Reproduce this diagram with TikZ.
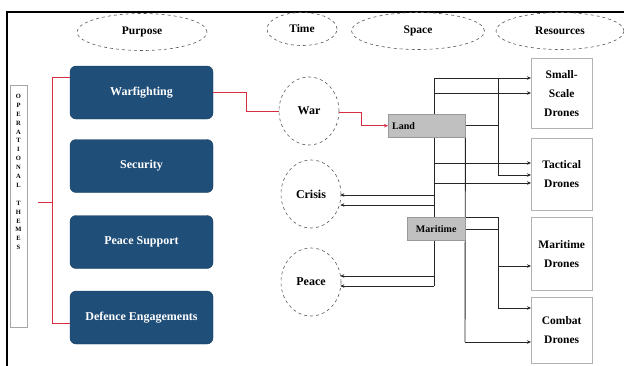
\documentclass[tikz,border=0pt]{standalone}
\usepackage{fontspec}
\setmainfont{Liberation Serif}
\usetikzlibrary{shapes.geometric,arrows.meta,backgrounds}
\definecolor{navy}{RGB}{31,78,121}
\definecolor{redl}{RGB}{215,45,65}
\definecolor{boxgray}{RGB}{192,192,192}
\begin{document}
\begin{tikzpicture}[x=1pt,y=-1pt,
 hdr/.style={ellipse,draw=gray!70!black,dashed,line width=0.6pt,inner sep=0pt,font=\bfseries\fontsize{11.5}{14}\selectfont},
 theme/.style={rounded corners=6pt,fill=navy,draw=navy!80!black,text=white,font=\bfseries\fontsize{12}{14}\selectfont,minimum width=143pt,minimum height=53pt,inner sep=0pt},
 phase/.style={ellipse,draw=gray!70!black,dashed,line width=0.6pt,minimum width=60pt,minimum height=68pt,inner sep=0pt,font=\bfseries\fontsize{12}{14}\selectfont},
 dom/.style={fill=boxgray,draw=gray!80,font=\bfseries\fontsize{10}{12}\selectfont,inner ysep=0pt,minimum height=23pt},
 drone/.style={draw=gray!60,minimum width=61pt,inner sep=0pt,align=center,font=\bfseries\fontsize{11.5}{19}\selectfont},
 wire/.style={draw=black!85,line width=0.9pt},
 arr/.style={wire,-{Stealth[length=4pt,width=3.5pt]}},
 redw/.style={draw=redl,line width=0.9pt}
]
\path[use as bounding box] (0,0) rectangle (624,365);
\clip (0,0) rectangle (624,365);
\draw[line width=1.2pt] (7,12) rectangle (640,380);

% headers
\node[hdr,minimum width=130pt,minimum height=37pt] (purpose) at (142,32) {Purpose};
\node[hdr,minimum width=70pt,minimum height=33pt] (time) at (302,29) {Time};
\node[hdr,minimum width=133pt,minimum height=37pt] (space) at (418,31) {Space};
\node[hdr,minimum width=128pt,minimum height=37pt] (res) at (560,31) {Resources};

% operational themes strip
\node[draw=gray!70,minimum width=17pt,minimum height=242pt,inner sep=0pt] (strip) at (18.5,206) {};
\node[font=\bfseries\fontsize{6.5}{8.9}\selectfont,align=center,inner sep=0pt] (striptext) at (18.5,172)
 {O\\P\\E\\R\\A\\T\\I\\O\\N\\A\\L\\[8.9pt]T\\H\\E\\M\\E\\S};

% themes
\node[theme] (warf) at (141.5,92.5) {Warfighting};
\node[theme] (sec) at (141.5,166) {Security};
\node[theme] (peace) at (141.5,242) {Peace Support};
\node[theme] (def) at (141.5,317.5) {Defence Engagements};

% phases
\node[phase] (war) at (309,111) {War};
\node[phase] (crisis) at (311,194) {Crisis};
\node[phase] (peacec) at (311,282) {Peace};

% domains
\node[dom,anchor=north west,text width=69pt,inner xsep=4pt,align=left] (land) at (388,114) {Land};
\node[dom,anchor=north west,minimum width=58pt,inner xsep=0pt] (mar) at (407,217) {Maritime};

% drones
\node[drone,anchor=north west,minimum height=70pt] (small) at (531,58) {Small-\\Scale\\Drones};
\node[drone,anchor=north west,minimum height=72pt] (tact) at (531,138) {Tactical\\Drones};
\node[drone,anchor=north west,minimum height=73pt] (mard) at (531,217) {Maritime\\Drones};
\node[drone,anchor=north west,minimum height=66pt] (comb) at (531,297) {Combat\\Drones};

% red bracket
\draw[redw] ([yshift=15.5pt]warf.west) -- ++(-17,0) |- ([yshift=-5.5pt]def.west);
\coordinate (nubA) at (53,202);
\coordinate (nubB) at (38,202);
\draw[redw] (nubA) -- (nubB);
\draw[redw] (warf.east) -- ++(33,0) |- (war.west);
\draw[redw,-{Stealth[length=4pt,width=3.5pt]}] ([yshift=-1pt]war.east) -- ++(22,0) |- (land.west);

\begin{pgfonlayer}{background}
% bus A (x=434)
\coordinate (a1) at (434,78);
\coordinate (a2) at (434,93);
\coordinate (a3) at (434,163);
\coordinate (a4) at (434,183);
\coordinate (a5) at (434,195);
\coordinate (a6) at (434,205);
\coordinate (a7) at (434,276);
\coordinate (a8) at (434,286);
\draw[wire] (a1) -- (a8);
\draw[arr] (a1) -- (small.west |- a1);
\draw[arr] (a2) -- (small.west |- a2);
\draw[arr] (a3) -- (tact.west |- a3);
\draw[arr] (a4) -- (tact.west |- a4);
\draw[arr] (a5) -- ([xshift=-1pt]crisis.east |- a5);
\draw[arr] (a6) -- ([xshift=-1pt]crisis.east |- a6);
\draw[arr] (a7) -- ([xshift=-1pt]peacec.east |- a7);
\draw[arr] (a8) -- ([xshift=-1pt]peacec.east |- a8);
% bus B (x=498)
\coordinate (b1) at (498,78);
\coordinate (b2) at (498,175);
\draw[wire] (land.east) -- (land.east -| b1);
\draw[wire] (b1) -- (b2);
\draw[arr] (b2) -- (tact.west |- b2);
% bus C (x=465)
\coordinate (c1) at (465,342);
\draw[wire] (land.south east) -- (c1);
\draw[arr] (c1) -- (comb.west |- c1);
% bus D (x=498)
\coordinate (d1) at (498,217);
\coordinate (d2) at (498,229);
\coordinate (d3) at (498,266);
\coordinate (d4) at (498,308);
\draw[wire] (mar.north east) -- (d1);
\draw[wire] ([yshift=-12pt]mar.north east) -- (d2);
\draw[wire] (d1) -- (d4);
\draw[arr] (d3) -- (mard.west |- d3);
\draw[arr] (d4) -- (comb.west |- d4);
\end{pgfonlayer}
\end{tikzpicture}
\end{document}
